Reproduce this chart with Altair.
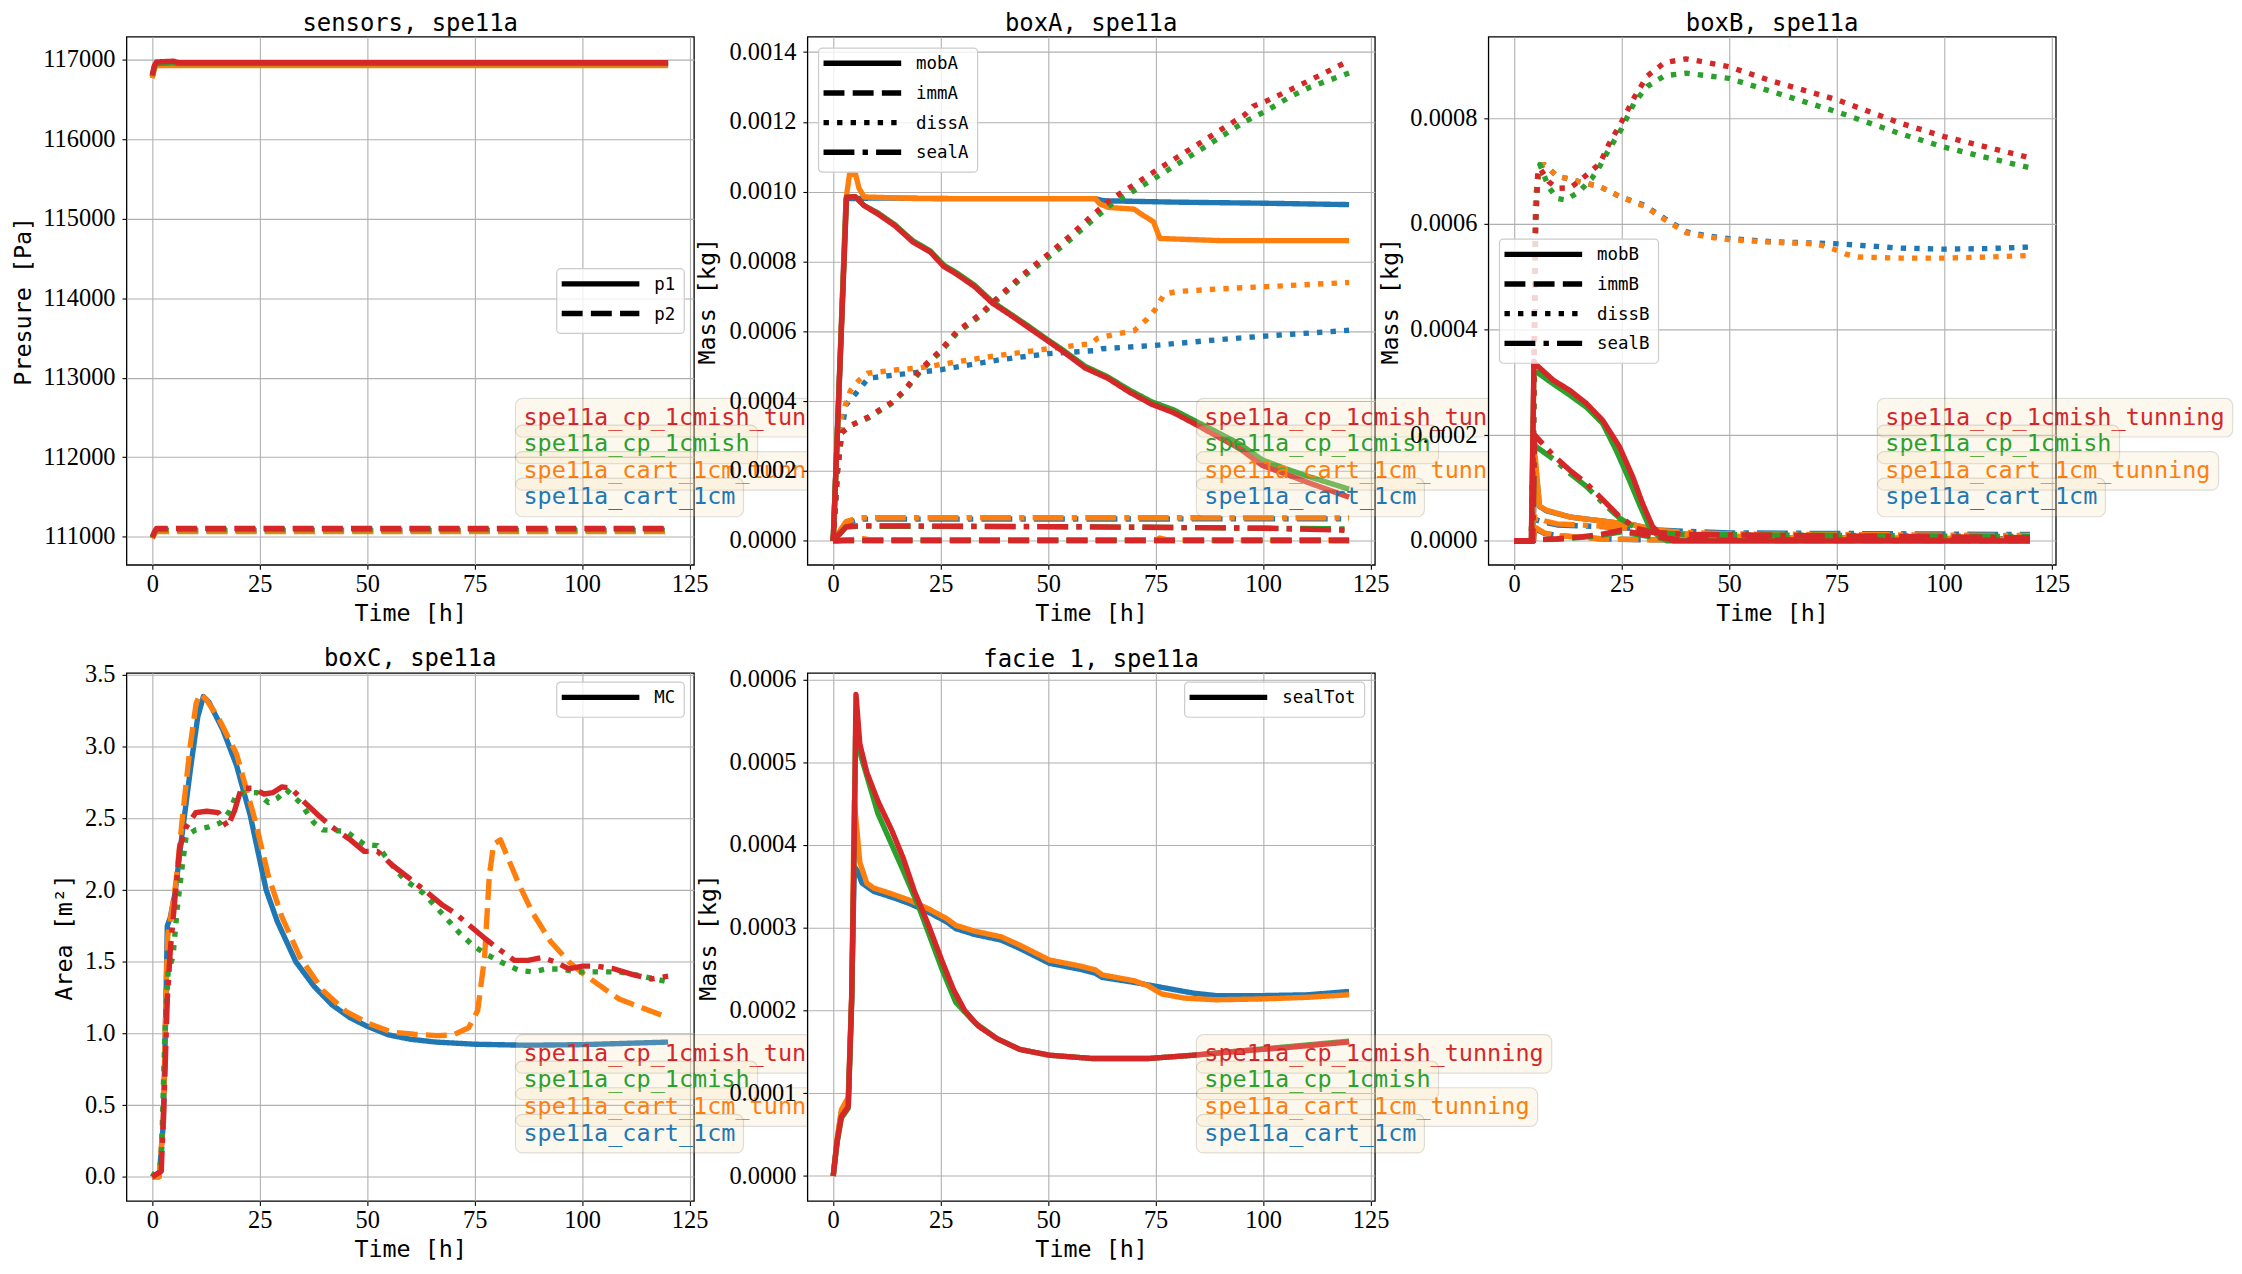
import altair as alt
import pandas as pd

# ---------------------------------------------------------------- categories
CASES = ["spe11a_cart_1cm", "spe11a_cart_1cm_tunning", "spe11a_cp_1cmish", "spe11a_cp_1cmish_tunning"]
CASE_COLORS = ["#1f77b4", "#ff7f0e", "#2ca02c", "#d62728"]
TIME_TICKS = [0, 25, 50, 75, 100, 125]

# ---------------------------------------------------------------- sensors (Pa)
SENS_P1_CART = [(0, 116790), (0.5, 116900), (1, 116945), (120, 116945)]
SENS_P1_CART_T = [(0, 116770), (0.5, 116890), (1, 116930), (120, 116930)]
SENS_P1_CP = [(0, 116800), (0.5, 116920), (1, 116955), (5, 116965), (6, 116955), (120, 116955)]
SENS_P1_CP_T = [(0, 116810), (0.5, 116930), (1, 116975), (5, 116985), (6, 116966), (120, 116966)]
SENS_P2_CART = [(0, 110985), (0.5, 111040), (1, 111075), (120, 111075)]
SENS_P2_CART_T = [(0, 110975), (0.5, 111030), (1, 111065), (120, 111065)]
SENS_P2_CP = [(0, 110990), (0.5, 111050), (1, 111090), (120, 111090)]
SENS_P2_CP_T = [(0, 110995), (0.5, 111060), (1, 111105), (120, 111105)]

# ---------------------------------------------------------------- boxA (kg)
BOXA_MOB_CART = [(0, 0), (3, 0.00098), (10, 0.000982), (30, 0.00098), (61, 0.00098), (63, 0.000974),
                 (80, 0.00097), (100, 0.000967), (120, 0.000963)]
BOXA_MOB_CART_T = [(0, 0), (3, 0.00098), (3.8, 0.00105), (5.2, 0.00105), (6, 0.00101), (7.2, 0.000985),
                   (20, 0.00098), (61, 0.00098), (62, 0.000965), (64, 0.000955), (70, 0.00095),
                   (71.5, 0.000937), (74.5, 0.000914), (76, 0.000866), (90, 0.00086), (120, 0.00086)]
BOXA_MOB_CP = [(0, 0), (3.1, 0.000984), (5.1, 0.000986), (7.2, 0.00096), (10.3, 0.00094), (14.4, 0.000905),
               (17, 0.000876), (18.5, 0.00086), (22.6, 0.00083), (25.7, 0.00079), (28.8, 0.000767),
               (32.9, 0.000732), (37, 0.000685), (41.2, 0.00065), (45.3, 0.000616), (49.4, 0.00058),
               (53.5, 0.000546), (58.6, 0.0005), (63.8, 0.00047), (68.9, 0.000432), (74.1, 0.000398),
               (79.2, 0.000375), (84.4, 0.000342), (89.5, 0.00031), (94.7, 0.000276), (99.8, 0.000232),
               (104.9, 0.000208), (111.1, 0.000182), (120, 0.000148)]
BOXA_MOB_CP_T = [(0, 0), (3.1, 0.000984), (5.1, 0.000986), (7.2, 0.00096), (10.3, 0.000937), (14.4, 0.000902),
                 (17, 0.000873), (18.5, 0.000856), (22.6, 0.000827), (25.7, 0.000786), (28.8, 0.000763),
                 (32.9, 0.000728), (37, 0.000681), (41.2, 0.000647), (45.3, 0.000612), (49.4, 0.000577),
                 (53.5, 0.000542), (58.6, 0.000495), (63.8, 0.000466), (68.9, 0.000426), (74.1, 0.000391),
                 (79.2, 0.000367), (84.4, 0.000333), (89.5, 0.000298), (94.7, 0.000263), (99.8, 0.000216),
                 (104.9, 0.000193), (111.1, 0.000164), (120, 0.000125)]
BOXA_IMM_CART = [(0, 0), (3, 0.000002), (120, 0.000002)]
BOXA_IMM_CART_T = [(0, 0), (3, 0.000002), (7, 0.000006), (9, 0.000002), (75, 0.000002), (76, 0.000008),
                   (78, 0.000002), (120, 0.000002)]
BOXA_IMM_CP = [(0, 0), (3, 0.000001), (120, 0.000001)]
BOXA_IMM_CP_T = [(0, 0), (3, 0.000001), (120, 0.000001)]
BOXA_DISS_CART = [(0, 0), (1, 0.0002), (2, 0.00032), (3, 0.00039), (5.1, 0.00042), (8.2, 0.000466),
                  (16.5, 0.000478), (25, 0.00049), (39, 0.000519), (50, 0.000536), (61, 0.000545),
                  (62.5, 0.00055), (75, 0.00056), (90.5, 0.000577), (100, 0.000586), (120, 0.000603)]
BOXA_DISS_CART_T = [(0, 0), (1, 0.00025), (2, 0.00036), (4, 0.00043), (6, 0.00046), (8, 0.00048),
                    (15, 0.00049), (20, 0.000495), (25, 0.000505), (35, 0.000525), (50, 0.00055),
                    (60, 0.000565), (61.5, 0.00058), (65, 0.00059), (70, 0.000602), (73, 0.000635),
                    (75, 0.000664), (77, 0.000707), (80, 0.000714), (90.5, 0.000722), (100.8, 0.000728),
                    (120, 0.00074)]
BOXA_DISS_CP = [(0, 0), (1, 0.0002), (2, 0.00031), (4, 0.00033), (8.2, 0.000352), (13.4, 0.000392),
                (16.5, 0.000427), (20.6, 0.00049), (24.7, 0.000538), (28.8, 0.000595), (34, 0.000642),
                (39, 0.0007), (44.2, 0.000756), (49.4, 0.000806), (54.5, 0.000856), (59.7, 0.000912),
                (64.8, 0.000965), (70, 0.001003), (75, 0.00104), (80.2, 0.00108), (85.4, 0.00112),
                (90.5, 0.00116), (95.7, 0.0012), (100.8, 0.001232), (106, 0.00127), (111, 0.0013),
                (120, 0.00134)]
BOXA_DISS_CP_T = [(0, 0), (1, 0.0002), (2, 0.00031), (4, 0.00033), (8.2, 0.000355), (13.4, 0.000395),
                  (16.5, 0.00043), (20.6, 0.000495), (24.7, 0.000542), (28.8, 0.0006), (34, 0.000647),
                  (39, 0.000705), (44.2, 0.000763), (49.4, 0.000815), (54.5, 0.000867), (59.7, 0.000926),
                  (64.8, 0.00098), (70, 0.00102), (75, 0.00106), (80.2, 0.0011), (85.4, 0.00114),
                  (90.5, 0.00118), (95.7, 0.00122), (97.7, 0.001245), (100.8, 0.00126), (106, 0.00129),
                  (111, 0.00132), (120, 0.001375)]
BOXA_SEAL_CART = [(0, 0), (3, 0.00005), (6, 0.000062), (120, 0.000063)]
BOXA_SEAL_CART_T = [(0, 0), (3, 0.000055), (6, 0.000066), (120, 0.000066)]
BOXA_SEAL_CP = [(0, 0), (3, 0.00004), (6, 0.000042), (60, 0.00004), (120, 0.000034)]
BOXA_SEAL_CP_T = [(0, 0), (3, 0.00004), (6, 0.000043), (60, 0.00004), (100, 0.000036), (120, 0.00003)]

# ---------------------------------------------------------------- boxB (kg)
BOXB_MOB_CART = [(0, 0), (4.3, 0), (4.9, 0.00015), (5.9, 0.000065), (7.5, 0.000057), (13, 0.000045),
                 (20, 0.000038), (28, 0.00003), (32, 0.000022), (36, 0.000015), (45, 0.00001),
                 (60, 0.000006), (120, 0.000004)]
BOXB_MOB_CART_T = [(0, 0), (4.3, 0), (4.9, 0.00016), (5.9, 0.000066), (7.5, 0.000058), (13, 0.000045),
                   (20, 0.000038), (28, 0.00003), (32, 0.000022), (36, 0.000015), (45, 0.00001),
                   (60, 0.000006), (120, 0.000003)]
BOXB_MOB_CP = [(0, 0), (4, 0), (4.6, 0.00032), (5.3, 0.000319), (9.1, 0.000297), (12.9, 0.000276),
               (16.8, 0.000253), (20.6, 0.000222), (23.7, 0.000172), (26.8, 0.000115), (29.1, 0.00007),
               (31.4, 0.000027), (33.7, 0.000008), (35.5, 0), (120, 0)]
BOXB_MOB_CP_T = [(0, 0), (4, 0), (4.6, 0.00034), (5.3, 0.000332), (9.1, 0.000304), (12.9, 0.000285),
                 (16.8, 0.00026), (20.6, 0.000228), (24.5, 0.000178), (27.6, 0.000121), (29.9, 0.00007),
                 (32.2, 0.000027), (34.5, 0.000008), (37, 0), (120, 0)]
BOXB_IMM_CART = [(0, 0), (4.5, 0), (5, 0.000022), (7, 0.000014), (10, 0.00001), (20, 0.000004),
                 (30, 0.000002), (120, 0.000001)]
BOXB_IMM_CART_T = [(0, 0), (4.5, 0), (5, 0.000025), (7, 0.000015), (10, 0.00001), (20, 0.000004),
                   (30, 0.000002), (120, 0)]
BOXB_IMM_CP = [(0, 0), (4.5, 0), (5, 0.000002), (10, 0.000003), (15, 0.000006), (20, 0.00001),
               (25, 0.000017), (30, 0.00001), (35, 0.000004), (40, 0.000001), (120, 0)]
BOXB_IMM_CP_T = [(0, 0), (4.5, 0), (5, 0.000002), (10, 0.000004), (15, 0.000007), (20, 0.000012),
                 (25, 0.00002), (30, 0.000012), (35, 0.000005), (40, 0.000002), (120, 0.000001)]
BOXB_DISS_CART = [(0, 0), (4, 0), (4.5, 0.0002), (5, 0.00065), (6, 0.00071), (7, 0.000712), (10, 0.00069),
                  (15, 0.00068), (20, 0.00067), (25, 0.00065), (30.3, 0.000635), (35, 0.00061),
                  (40, 0.000585), (45, 0.000577), (50, 0.000572), (60, 0.000566), (75.4, 0.000562),
                  (89.6, 0.000554), (100, 0.000552), (110, 0.000553), (120, 0.000556)]
BOXB_DISS_CART_T = [(0, 0), (4, 0), (4.5, 0.0002), (5, 0.00065), (6, 0.00071), (7, 0.000712), (10, 0.00069),
                    (15, 0.00068), (20, 0.00067), (25, 0.00065), (30.3, 0.000633), (35, 0.000608),
                    (40, 0.000583), (45, 0.000575), (50, 0.00057), (60, 0.000565), (70, 0.000562),
                    (72, 0.000558), (75, 0.00055), (77, 0.000543), (80, 0.000537), (90, 0.000535),
                    (100, 0.000535), (110, 0.000537), (120, 0.00054)]
BOXB_DISS_CP = [(0, 0), (4, 0), (4.5, 0.0002), (5, 0.0006), (5.5, 0.00069), (6, 0.000712), (8, 0.00067),
                (10, 0.000648), (12, 0.000645), (15, 0.00066), (18, 0.000685), (20, 0.00071), (22, 0.00074),
                (25, 0.00078), (28, 0.00083), (31, 0.00086), (35, 0.00088), (40, 0.000885), (50, 0.000875),
                (60, 0.00085), (75, 0.000812), (90, 0.00077), (100, 0.000745), (110, 0.000725),
                (120, 0.000706)]
BOXB_DISS_CP_T = [(0, 0), (4, 0), (4.5, 0.0002), (5, 0.0006), (5.5, 0.0007), (6, 0.000705), (8, 0.00068),
                  (10, 0.000667), (13, 0.000668), (15, 0.00068), (18, 0.0007), (20, 0.000715), (22, 0.00075),
                  (25, 0.000793), (28, 0.00084), (31, 0.00088), (35, 0.000905), (40, 0.000912),
                  (45, 0.000905), (50, 0.000897), (60, 0.00087), (75, 0.000835), (90, 0.00079),
                  (100, 0.000765), (110, 0.000745), (120, 0.000725)]
BOXB_SEAL_CART = [(0, 0), (4.5, 0), (5, 0.00004), (7, 0.000035), (10, 0.00003), (20, 0.000027),
                  (30, 0.000022), (40, 0.000018), (50, 0.000015), (120, 0.000012)]
BOXB_SEAL_CART_T = [(0, 0), (4.5, 0), (5, 0.000045), (7, 0.000038), (10, 0.000032), (20, 0.000028),
                    (30, 0.000022), (40, 0.000016), (50, 0.000013), (120, 0.00001)]
BOXB_SEAL_CP = [(0, 0), (4.3, 0), (4.8, 0.00018), (9.1, 0.000155), (12.9, 0.000128), (16.8, 0.000103),
                (20.6, 0.000072), (24.5, 0.000043), (28.4, 0.000024), (32.2, 0.000016), (40, 0.000012),
                (120, 0.000008)]
BOXB_SEAL_CP_T = [(0, 0), (4.3, 0), (4.8, 0.0002), (9.1, 0.000162), (12.9, 0.000134), (16.8, 0.000109),
                  (20.6, 0.000078), (24.5, 0.000046), (28.4, 0.000024), (32.2, 0.000016), (40, 0.000012),
                  (120, 0.000006)]

# ---------------------------------------------------------------- boxC (m2)
BOXC_CART = [(0, 0), (1.6, 0), (2.6, 0.38), (3.2, 1.24), (3.5, 1.75), (4.2, 1.81), (5.3, 1.98), (6.9, 2.38),
             (9, 2.87), (10.6, 3.21), (11.9, 3.35), (13.2, 3.31), (16.4, 3.12), (19.6, 2.87), (22.8, 2.52),
             (26.5, 2.0), (29.1, 1.78), (33.4, 1.5), (37.6, 1.33), (41.8, 1.2), (46, 1.11), (50, 1.05),
             (55, 0.99), (60, 0.96), (66, 0.94), (75, 0.925), (87, 0.918), (100, 0.922), (120, 0.94)]
BOXC_CART_T = [(0, 0), (1.6, 0), (2.6, 0.4), (3.2, 1.3), (3.6, 1.68), (4.5, 1.85), (5.5, 2.05), (7, 2.5),
               (8.8, 3.0), (10.2, 3.3), (11.1, 3.37), (12.5, 3.33), (15.4, 3.2), (19.6, 2.95), (23.8, 2.5),
               (27, 2.1), (30.2, 1.81), (34.4, 1.53), (39.7, 1.3), (45, 1.155), (50.3, 1.07), (55.6, 1.01),
               (60.9, 0.995), (66.2, 0.985), (70, 0.99), (73.6, 1.04), (75.7, 1.16), (77.3, 1.53),
               (78.4, 2.1), (79.4, 2.32), (81, 2.35), (82.1, 2.27), (85.3, 2.04), (88.5, 1.84),
               (92.7, 1.64), (96.9, 1.5), (100.1, 1.42), (104.3, 1.33), (108.6, 1.24), (113.9, 1.18),
               (120, 1.11)]
BOXC_CP = [(0, 0), (2.1, 0.1), (2.9, 0.96), (3.7, 1.44), (4.8, 1.53), (5.8, 1.87), (6.9, 2.15), (7.9, 2.38),
           (10.1, 2.42), (13.2, 2.44), (15.9, 2.47), (18, 2.55), (19.6, 2.67), (21.7, 2.68), (24.4, 2.68),
           (27, 2.61), (29.1, 2.64), (31.2, 2.7), (34.4, 2.61), (37.6, 2.47), (39.7, 2.42), (45, 2.41),
           (49.3, 2.32), (52.4, 2.31), (55.6, 2.18), (58.8, 2.07), (63, 1.98), (67.3, 1.84), (71.5, 1.7),
           (74.7, 1.61), (77.9, 1.55), (81, 1.5), (85.3, 1.44), (88.5, 1.43), (91.6, 1.45), (94.8, 1.45),
           (99, 1.43), (103.3, 1.43), (108.6, 1.43), (113.9, 1.4), (120, 1.36)]
BOXC_CP_T = [(0, 0), (2.1, 0.04), (2.9, 0.67), (3.5, 1.24), (4.2, 1.58), (5.3, 1.95), (6.4, 2.3), (7.9, 2.44),
             (10.1, 2.54), (12.7, 2.55), (15.4, 2.54), (17.5, 2.44), (19.1, 2.55), (20.7, 2.71), (23.3, 2.71),
             (26, 2.67), (28.1, 2.68), (30.2, 2.72), (32.3, 2.71), (35.5, 2.61), (38.7, 2.52), (41.8, 2.44),
             (46.1, 2.35), (49.3, 2.27), (52.4, 2.27), (55.6, 2.18), (59.9, 2.08), (64.1, 1.98),
             (67.3, 1.9), (70.4, 1.84), (74.7, 1.73), (77.9, 1.65), (81, 1.58), (84.2, 1.51), (87.4, 1.51),
             (90.6, 1.53), (93.7, 1.5), (96.9, 1.45), (100.1, 1.47), (103.3, 1.47), (107.5, 1.45),
             (111.8, 1.41), (116, 1.38), (120, 1.4)]

# ---------------------------------------------------------------- facie 1 sealTot (kg)
FACIE_CART = [(0, 0), (0.9, 0.000042), (1.9, 0.000077), (3.5, 0.000092), (4.3, 0.000215), (4.9, 0.000374),
              (5.6, 0.000369), (6.7, 0.000354), (9.4, 0.000344), (13.6, 0.000337), (17.9, 0.000329),
              (22.1, 0.000319), (26.4, 0.000307), (28.5, 0.000299), (32.8, 0.000292), (39.1, 0.000285),
              (43.4, 0.000275), (50.3, 0.000257), (57.2, 0.00025), (61, 0.000245), (62.6, 0.00024),
              (70, 0.000234), (76.4, 0.000228), (83.8, 0.000221), (89.1, 0.000218), (99.8, 0.000218),
              (110.4, 0.000219), (120, 0.000223)]
FACIE_CART_T = [(0, 0), (0.9, 0.000045), (1.9, 0.00008), (3.5, 0.000095), (4.3, 0.00022), (4.9, 0.000453),
                (6.2, 0.000379), (7.8, 0.000354), (9.4, 0.000348), (13.6, 0.000341), (17.9, 0.000333),
                (22.1, 0.000323), (26.4, 0.000311), (28.5, 0.000303), (32.8, 0.000296), (39.1, 0.000289),
                (43.4, 0.000279), (50.3, 0.000261), (57.2, 0.000254), (61, 0.000249), (62.6, 0.000243),
                (70, 0.000236), (73.2, 0.00023), (76.4, 0.00022), (81.7, 0.000215), (89, 0.000213),
                (99.8, 0.000214), (110.4, 0.000216), (120, 0.000219)]
FACIE_CP = [(0, 0), (0.9, 0.00004), (1.9, 0.00007), (3.5, 0.000082), (4.3, 0.00021), (4.9, 0.0004),
            (5.2, 0.000532), (6.2, 0.000512), (10.4, 0.000438), (16.3, 0.000369), (20, 0.000324),
            (25.3, 0.00025), (28.5, 0.00021), (32.8, 0.000186), (38.1, 0.000166), (43.4, 0.000153),
            (50.3, 0.000146), (60.4, 0.000142), (73.2, 0.000142), (83.8, 0.000146), (94.5, 0.000151),
            (105.1, 0.000156), (120, 0.000163)]
FACIE_CP_T = [(0, 0), (0.9, 0.000042), (1.9, 0.000072), (3.5, 0.000084), (4.3, 0.000215), (4.9, 0.000413),
              (5.3, 0.000582), (6.2, 0.000522), (7.8, 0.000488), (10.4, 0.000453), (13.6, 0.000418),
              (16.3, 0.000384), (18.9, 0.000344), (22.1, 0.000304), (25.3, 0.00026), (28, 0.000225),
              (30.6, 0.0002), (33.8, 0.000181), (38.1, 0.000166), (43.4, 0.000153), (50.3, 0.000146),
              (60.4, 0.000142), (73.2, 0.000142), (83.8, 0.000146), (94.5, 0.000151), (105.1, 0.000155),
              (120, 0.000162)]

# ---------------------------------------------------------------- styling
LW = 5.4
STYLE_NAMES = ["solid", "dashed", "dotted", "dashdot"]
STYLE_DASH = [[1, 0], [21, 8.3], [5.4, 8.2], [31, 8.2, 5.4, 8.2]]
MONO = "DejaVu Sans Mono"
SERIF = "Liberation Serif"
W, H = 570, 530.5
XDOM = [-6, 126]
ONE = pd.DataFrame({"k": [0]})
CFS = 23.6  # colour legend font size


def build_df(series):
    rows = []
    for case, style, pts in series:
        for t, v in pts:
            rows.append({"case": case, "style": style, "t": t, "v": v})
    return pd.DataFrame(rows)


def txt(s, px, py, color, size, font=MONO):
    return alt.Chart(ONE).mark_text(text=s, align="left", baseline="middle", font=font,
                                    fontSize=size, color=color).encode(x=alt.value(px), y=alt.value(py))


def box(x0, x1, y0, y1, fill, fop, stroke, sop, radius):
    return alt.Chart(ONE).mark_rect(cornerRadius=radius, fill=fill, fillOpacity=fop, stroke=stroke,
                                    strokeOpacity=sop, strokeWidth=1.2).encode(
        x=alt.value(x0), x2=alt.value(x1), y=alt.value(y0), y2=alt.value(y1))


def seg(x0, x1, y, style):
    kw = {}
    if style != "solid":
        kw["strokeDash"] = STYLE_DASH[STYLE_NAMES.index(style)]
    return alt.Chart(ONE).mark_rule(color="black", strokeWidth=LW, **kw).encode(
        x=alt.value(x0), x2=alt.value(x1), y=alt.value(y))


def panel(series, title, ytitle, ytitle_x, ydom, yticks, yfmt, leg_labels, leg_styles, leg_x0, leg_y0,
          title_offset=-18):
    df = build_df(series)
    xenc = alt.X("t:Q", scale=alt.Scale(domain=XDOM, nice=False, zero=False),
                 axis=alt.Axis(values=TIME_TICKS, title="Time [h]", format="d"))
    yenc = alt.Y("v:Q", scale=alt.Scale(domain=ydom, nice=False, zero=False),
                 axis=alt.Axis(values=yticks, format=yfmt, title=ytitle, titleX=ytitle_x))
    dash = alt.StrokeDash("style:N", scale=alt.Scale(domain=STYLE_NAMES, range=STYLE_DASH), legend=None)
    layers = []
    for case, color in zip(CASES, CASE_COLORS):
        layers.append(
            alt.Chart(df).transform_filter(alt.datum.case == case)
            .mark_line(color=color, strokeWidth=LW, strokeJoin="round")
            .encode(x=xenc, y=yenc, strokeDash=dash)
        )
    # colour legend (text with translucent rounded boxes), top entry = last case
    for i, (lab, col) in enumerate(zip(CASES[::-1], CASE_COLORS[::-1])):
        cy = 381.7 + i * 26.7
        x0 = 398.7
        tw = len(lab) * 0.602 * CFS
        layers.append(box(x0 - 8, x0 + tw + 8, cy - 18.3, cy + 20.4, "#f5deb3", 0.22, "black", 0.12, 7))
        layers.append(txt(lab, x0, cy + 1, col, CFS))
    # line-style legend
    rows = [leg_y0 + 15.3 + i * 29.8 for i in range(len(leg_labels))]
    w = 98 + max(len(s) for s in leg_labels) * 10.55 + 9
    layers.append(box(leg_x0, leg_x0 + w, leg_y0, rows[-1] + 20, "white", 0.8, "#cccccc", 1, 4))
    for lab, st, ry in zip(leg_labels, leg_styles, rows):
        layers.append(seg(leg_x0 + 5, leg_x0 + 83, ry, st))
        layers.append(txt(lab, leg_x0 + 98, ry + 1, "black", 17.5))
    return alt.layer(*layers).properties(
        width=W, height=H,
        title=alt.TitleParams(title, font=MONO, fontSize=24, fontWeight="normal", anchor="middle",
                              frame="group", baseline="alphabetic", offset=title_offset, color="black"))


def four(qty_style, c0, c1, c2, c3):
    return [(CASES[0], qty_style, c0), (CASES[1], qty_style, c1), (CASES[2], qty_style, c2), (CASES[3], qty_style, c3)]


p1 = panel(four("solid", SENS_P1_CART, SENS_P1_CART_T, SENS_P1_CP, SENS_P1_CP_T)
           + four("dashed", SENS_P2_CART, SENS_P2_CART_T, SENS_P2_CP, SENS_P2_CP_T),
           "sensors, spe11a", "Presure [Pa]", -103, [110646, 117293],
           [111000, 112000, 113000, 114000, 115000, 116000, 117000], "d",
           ["p1", "p2"], ["solid", "dashed"], 432.2, 233)

series_a = []
for case, mob, imm, diss, seal in zip(
        CASES,
        [BOXA_MOB_CART, BOXA_MOB_CART_T, BOXA_MOB_CP, BOXA_MOB_CP_T],
        [BOXA_IMM_CART, BOXA_IMM_CART_T, BOXA_IMM_CP, BOXA_IMM_CP_T],
        [BOXA_DISS_CART, BOXA_DISS_CART_T, BOXA_DISS_CP, BOXA_DISS_CP_T],
        [BOXA_SEAL_CART, BOXA_SEAL_CART_T, BOXA_SEAL_CP, BOXA_SEAL_CP_T]):
    series_a += [(case, "solid", mob), (case, "dashed", imm), (case, "dotted", diss), (case, "dashdot", seal)]
p2 = panel(series_a, "boxA, spe11a", "Mass [kg]", -100, [-0.0000688, 0.001444],
           [0, 0.0002, 0.0004, 0.0006, 0.0008, 0.001, 0.0012, 0.0014], ".4f",
           ["mobA", "immA", "dissA", "sealA"], STYLE_NAMES, 11.2, 11.4)

series_b = []
for case, mob, imm, diss, seal in zip(
        CASES,
        [BOXB_MOB_CART, BOXB_MOB_CART_T, BOXB_MOB_CP, BOXB_MOB_CP_T],
        [BOXB_IMM_CART, BOXB_IMM_CART_T, BOXB_IMM_CP, BOXB_IMM_CP_T],
        [BOXB_DISS_CART, BOXB_DISS_CART_T, BOXB_DISS_CP, BOXB_DISS_CP_T],
        [BOXB_SEAL_CART, BOXB_SEAL_CART_T, BOXB_SEAL_CP, BOXB_SEAL_CP_T]):
    series_b += [(case, "solid", mob), (case, "dashed", imm), (case, "dotted", diss), (case, "dashdot", seal)]
p3 = panel(series_b, "boxB, spe11a", "Mass [kg]", -98, [-0.0000454, 0.000954],
           [0, 0.0002, 0.0004, 0.0006, 0.0008], ".4f",
           ["mobB", "immB", "dissB", "sealB"], STYLE_NAMES, 11.2, 203.3)

p4 = panel([(CASES[0], "solid", BOXC_CART), (CASES[1], "dashed", BOXC_CART_T),
            (CASES[2], "dotted", BOXC_CP), (CASES[3], "dashdot", BOXC_CP_T)],
           "boxC, spe11a", "Area [m²]", -62, [-0.168, 3.515],
           [0, 0.5, 1.0, 1.5, 2.0, 2.5, 3.0, 3.5], ".1f",
           ["MC"], ["solid"], 432.2, 9.3, title_offset=-28)

p5 = panel(four("solid", FACIE_CART, FACIE_CART_T, FACIE_CP, FACIE_CP_T),
           "facie 1, spe11a", "Mass [kg]", -99, [-0.0000301, 0.000608],
           [0, 0.0001, 0.0002, 0.0003, 0.0004, 0.0005, 0.0006], ".4f",
           ["sealTot"], ["solid"], 378.9, 9.3, title_offset=-24)

chart = (
    alt.concat(p1, p2, p3, p4, p5, columns=3, spacing={"row": 108, "column": 114}, bounds="flush")
    .properties(padding={"left": 3, "top": 0, "right": 0, "bottom": 0}, background="white")
    .configure_view(fill="white", stroke="black", strokeWidth=1.3)
    .configure_axis(labelFont=SERIF, labelFontSize=24.5, labelColor="black", titleFont=MONO,
                    titleFontSize=23.5, titleFontWeight="normal", titleColor="black", tickColor="black",
                    tickSize=4.5, tickWidth=1.1, gridColor="#b0b0b0", gridWidth=1.1, domain=False,
                    labelOverlap=False)
    .configure_axisX(labelPadding=3, titleY=56, titleBaseline="alphabetic")
    .configure_axisY(labelPadding=7, titleBaseline="middle")
)

chart.save("out.html", embed_options={"renderer": "svg", "actions": False})
